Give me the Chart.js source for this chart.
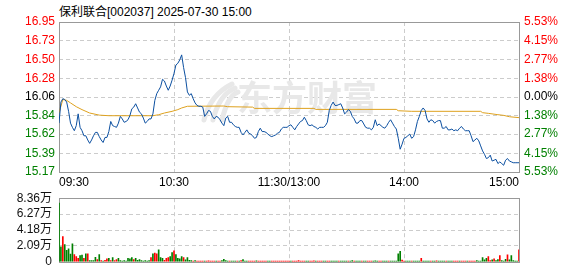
<!DOCTYPE html>
<html>
<head>
<meta charset="utf-8">
<script src="https://cdn.jsdelivr.net/npm/chart.js@4.4.1/dist/chart.umd.min.js"></script>
<style>
  body { margin: 0; background: #fff; width: 578px; height: 276px; position: relative; overflow: hidden; }
  #title { position: absolute; left: 59px; top: 2px; font: 12px 'Liberation Sans', 'Noto Sans CJK SC', sans-serif; color: #000; white-space: pre; }
  canvas { position: absolute; left: 0; }
  #priceCanvas { top: 0; }
  #volCanvas { top: 184px; }
</style>
</head>
<body>
<div id="title">保利联合[002037] 2025-07-30 15:00</div>
<canvas id="priceCanvas" width="578" height="190"></canvas>
<canvas id="volCanvas" width="578" height="92"></canvas>
<script>
// ---- data ----
var preClose = 16.06;
var timeTicks = [0, 60, 120, 180, 240];
var timeLabels = ['09:30', '10:30', '11:30/13:00', '14:00', '15:00'];
var priceTicks = [15.17, 15.39, 15.62, 15.84, 16.06, 16.28, 16.50, 16.73, 16.95];
var pctLabels = ['5.53%', '4.15%', '2.77%', '1.38%', '0.00%', '1.38%', '2.77%', '4.15%', '5.53%'];
var volTicks = [0, 2.09, 4.18, 6.27, 8.36];

// one price per minute, 09:30 .. 15:00
var prices = [
  15.75, 16.00, 16.04, 16.03, 16.00, 15.89, 15.75, 15.70, 15.66, 15.72,
  15.86, 15.70, 15.66, 15.60, 15.60, 15.55, 15.51, 15.55, 15.60, 15.64,
  15.64, 15.59, 15.55, 15.52, 15.58, 15.58, 15.65, 15.77, 15.72, 15.71,
  15.70, 15.75, 15.83, 15.80, 15.76, 15.77, 15.79, 15.84, 15.92, 15.94,
  15.98, 15.93, 15.88, 15.86, 15.81, 15.75, 15.77, 15.80, 15.80, 15.86,
  16.02, 16.10, 16.14, 16.18, 16.27, 16.25, 16.19, 16.14, 16.19, 16.26,
  16.34, 16.44, 16.46, 16.50, 16.56, 16.41, 16.29, 16.12, 16.08, 16.10,
  16.04, 15.99, 15.96, 15.95, 15.95, 15.94, 15.83, 15.86, 15.90, 15.89,
  15.83, 15.80, 15.83, 15.82, 15.79, 15.75, 15.72, 15.81, 15.83, 15.76,
  15.76, 15.73, 15.71, 15.70, 15.70, 15.64, 15.61, 15.64, 15.67, 15.63,
  15.62, 15.60, 15.57, 15.58, 15.65, 15.69, 15.65, 15.65, 15.64, 15.62,
  15.60, 15.59, 15.60, 15.61, 15.63, 15.64, 15.68, 15.70, 15.70, 15.70,
  15.72, 15.73, 15.70, 15.67, 15.71, 15.74, 15.77, 15.78, 15.82, 15.78,
  15.73, 15.72, 15.73, 15.71, 15.70, 15.68, 15.70, 15.70, 15.70, 15.72,
  15.76, 15.90, 15.96, 16.00, 15.96, 15.96, 15.97, 15.98, 15.93, 15.86,
  15.88, 15.91, 15.89, 15.83, 15.80, 15.75, 15.75, 15.78, 15.78, 15.74,
  15.70, 15.69, 15.69, 15.67, 15.70, 15.79, 15.72, 15.74, 15.72, 15.70,
  15.69, 15.72, 15.76, 15.79, 15.75, 15.71, 15.68, 15.57, 15.44, 15.50,
  15.57, 15.58, 15.60, 15.62, 15.57, 15.59, 15.67, 15.77, 15.83, 15.90,
  15.93, 15.90, 15.80, 15.76, 15.79, 15.78, 15.75, 15.77, 15.78, 15.78,
  15.69, 15.69, 15.71, 15.67, 15.67, 15.68, 15.66, 15.67, 15.66, 15.69,
  15.71, 15.68, 15.66, 15.66, 15.66, 15.60, 15.53, 15.55, 15.57, 15.54,
  15.48, 15.42, 15.38, 15.33, 15.34, 15.37, 15.30, 15.31, 15.32, 15.27,
  15.29, 15.27, 15.25, 15.31, 15.33, 15.30, 15.29, 15.28, 15.28, 15.28, 15.28
];

// average price line, read at the minutes where it bends
var avgMinutes = [0, 2, 4, 6, 9, 12, 16, 21, 26, 49, 52, 55, 59, 62, 64, 67, 86, 88, 101, 102, 133, 134, 176, 177, 184, 220, 221, 224, 229, 232, 235, 240];
var avgPrices = [15.87, 16.03, 16.02, 15.99, 15.945, 15.91, 15.87, 15.845, 15.838, 15.838, 15.85, 15.87, 15.89, 15.91, 15.93, 15.95, 15.953, 15.945, 15.94, 15.925, 15.925, 15.913, 15.913, 15.897, 15.89, 15.89, 15.874, 15.866, 15.85, 15.842, 15.826, 15.815];

// volume per minute, in 万 shares
var volumes = [
  7.72, 1.96, 3.31, 2.26, 1.51, 1.69, 1.02, 2.37, 0.94, 0.68,
  0.45, 0.83, 0.87, 0.45, 1.05, 1.05, 0.15, 0.15, 0.15, 0.60,
  0.30, 0.94, 0.15, 0.11, 0.19, 0.38, 0.45, 0.15, 0.56, 0.15,
  0.30, 0.45, 0.15, 0.11, 0.15, 0.11, 0.45, 0.38, 0.56, 0.30,
  0.45, 0.19, 0.30, 0.15, 0.11, 0.15, 0.11, 0.15, 0.56, 1.05,
  1.13, 1.05, 1.58, 0.56, 0.45, 0.19, 0.45, 0.56, 0.68, 1.20,
  1.43, 0.94, 0.45, 0.38, 0.68, 0.56, 0.26, 0.56, 0.19, 0.15,
  0.11, 0.15, 0.11, 0.08, 0.11, 0.08, 0.11, 0.08, 0.12, 0.08,
  0.11, 0.08, 0.11, 0.08, 0.11, 0.15, 0.34, 0.15, 0.11, 0.08,
  0.11, 0.08, 0.11, 0.08, 0.11, 0.15, 0.30, 0.11, 0.08, 0.11,
  0.08, 0.11, 0.08, 0.12, 0.08, 0.11, 0.08, 0.11, 0.09, 0.11,
  0.08, 0.11, 0.08, 0.11, 0.08, 0.11, 0.09, 0.11, 0.08, 0.11,
  0.08, 0.11, 0.08, 0.11, 0.08, 0.15, 0.08, 0.11, 0.08, 0.11,
  0.08, 0.11, 0.08, 0.12, 0.08, 0.11, 0.08, 0.11, 0.08, 0.11,
  0.08, 0.11, 0.09, 0.11, 0.08, 0.11, 0.08, 0.11, 0.08, 0.11,
  0.08, 0.11, 0.08, 0.15, 0.08, 0.11, 0.08, 0.11, 0.08, 0.11,
  0.08, 0.11, 0.08, 0.11, 0.08, 0.12, 0.08, 0.11, 0.08, 0.11,
  0.08, 0.11, 0.08, 0.11, 0.08, 0.11, 0.11, 1.05, 1.39, 0.23,
  0.11, 0.08, 0.11, 0.08, 0.11, 0.08, 0.11, 0.08, 0.11, 0.45,
  0.08, 0.11, 0.08, 0.11, 0.08, 0.11, 0.08, 0.12, 0.08, 0.11,
  0.08, 0.11, 0.08, 0.11, 0.08, 0.11, 0.08, 0.11, 0.08, 0.11,
  0.08, 0.11, 0.08, 0.11, 0.08, 0.11, 0.08, 0.11, 0.15, 0.11,
  0.08, 0.56, 0.26, 0.45, 0.68, 0.15, 0.26, 0.38, 0.15, 0.30,
  0.83, 0.15, 0.08, 0.34, 0.90, 0.26, 0.83, 0.15, 0.08, 0.11, 1.58
];
// 1 = up minute (red bar), 0 = down minute (green bar)
var volUp = [
  0, 0, 1, 0, 0, 0, 0, 0, 1, 1,
  1, 0, 0, 1, 0, 1, 0, 0, 0, 0,
  1, 0, 1, 0, 1, 1, 0, 1, 0, 1,
  1, 0, 0, 0, 0, 0, 0, 0, 0, 1,
  0, 0, 0, 0, 0, 0, 0, 0, 1, 0,
  1, 1, 0, 0, 0, 1, 1, 1, 0, 0,
  1, 0, 0, 0, 0, 1, 0, 0, 0, 0,
  1, 0, 1, 1, 1, 1, 0, 1, 1, 1,
  1, 1, 0, 1, 1, 0, 0, 0, 0, 1,
  0, 0, 0, 1, 0, 1, 0, 0, 0, 1,
  1, 1, 1, 0, 1, 1, 1, 1, 1, 0,
  0, 1, 1, 1, 1, 1, 1, 1, 1, 1,
  1, 0, 1, 1, 1, 1, 1, 1, 1, 0,
  0, 1, 1, 1, 0, 1, 1, 1, 0, 0,
  1, 1, 0, 0, 0, 0, 1, 0, 0, 0,
  0, 1, 0, 0, 1, 0, 0, 0, 1, 0,
  0, 1, 1, 1, 0, 0, 0, 1, 1, 0,
  0, 0, 1, 0, 0, 0, 0, 0, 0, 1,
  1, 0, 0, 0, 1, 0, 0, 0, 0, 1,
  0, 0, 0, 0, 1, 0, 0, 1, 0, 0,
  0, 0, 1, 0, 0, 0, 1, 1, 1, 0,
  1, 1, 1, 0, 1, 1, 1, 1, 0, 0,
  0, 0, 0, 0, 1, 1, 0, 1, 0, 0,
  1, 0, 0, 0, 1, 0, 0, 0, 0, 0, 1
];

// ---- styling ----
var upColor = '#FF0000';
var downColor = '#008000';
var gridColor = '#cccccc';
var frameColor = '#999999';

Chart.defaults.font.family = "'Liberation Sans', 'Noto Sans CJK SC', sans-serif";
Chart.defaults.font.size = 12;
Chart.defaults.color = '#000';

function edgeHidden(list) {
  return function(c) {
    if (c.tick && (c.tick.value === list[0] || c.tick.value === list[list.length - 1])) return 'rgba(0,0,0,0)';
    return gridColor;
  };
}
function priceColor(c) {
  var v = c.tick.value;
  if (v > preClose + 0.001) return upColor;
  if (v < preClose - 0.001) return downColor;
  return '#000';
}

var framePlugin = {
  id: 'frame',
  beforeDatasetsDraw: function(chart) {
    var a = chart.chartArea, ctx = chart.ctx;
    ctx.save();
    ctx.strokeStyle = frameColor;
    ctx.lineWidth = 1;
    ctx.strokeRect(Math.round(a.left) + 0.5, Math.round(a.top) + 0.5, Math.round(a.right - a.left), Math.round(a.bottom - a.top));
    ctx.restore();
  }
};

var watermarkPlugin = {
  id: 'watermark',
  beforeDatasetsDraw: function(chart) {
    var ctx = chart.ctx;
    ctx.save();
    ctx.fillStyle = '#e8e8e8';
    ctx.strokeStyle = '#e8e8e8';
    ctx.font = "bold 35px 'Noto Sans CJK SC'";
    ctx.textBaseline = 'middle';
    ctx.fillText('东方财富', 237, 98);
    ctx.lineWidth = 5;
    ctx.lineCap = 'round';
    for (var k = 0; k < 3; k++) {
      ctx.beginPath();
      ctx.moveTo(204 + k * 9, 120);
      ctx.quadraticCurveTo(210 + k * 9, 95, 232 + k * 3, 84 + k * 4);
      ctx.stroke();
    }
    ctx.restore();
  }
};

var priceChart = new Chart(document.getElementById('priceCanvas'), {
  type: 'line',
  data: {
    datasets: [{
      label: '价格',
      data: prices.map(function(p, i) { return { x: i, y: p }; }),
      borderColor: '#0B4FA0',
      borderWidth: 1,
      pointRadius: 0,
      tension: 0,
      yAxisID: 'y'
    }, {
      label: '均价',
      data: avgMinutes.map(function(m, i) { return { x: m, y: avgPrices[i] }; }),
      borderColor: '#DEA11E',
      borderWidth: 1,
      pointRadius: 0,
      tension: 0,
      yAxisID: 'y'
    }]
  },
  options: {
    responsive: false,
    animation: false,
    layout: { padding: { top: 22, left: 0, right: 0, bottom: 0 } },
    plugins: { legend: { display: false }, tooltip: { enabled: false } },
    scales: {
      x: {
        type: 'linear', min: 0, max: 240,
        afterBuildTicks: function(s) { s.ticks = timeTicks.map(function(v) { return { value: v }; }); },
        afterFit: function(s) { s.height = 18; },
        grid: { color: edgeHidden(timeTicks), drawTicks: false },
        border: { display: false, dash: [4, 3] },
        ticks: { align: 'inner', padding: 3, maxRotation: 0, autoSkip: false,
          callback: function(v, i) { return timeLabels[i]; } }
      },
      y: {
        position: 'left', min: 15.17, max: 16.95,
        afterBuildTicks: function(s) { s.ticks = priceTicks.map(function(v) { return { value: v }; }); },
        afterFit: function(s) { s.width = 59; },
        grid: { color: edgeHidden(priceTicks), drawTicks: false },
        border: { display: false, dash: [4, 3] },
        ticks: { padding: 4, color: priceColor, callback: function(v) { return v.toFixed(2); } }
      },
      yR: {
        position: 'right', min: 15.17, max: 16.95,
        afterBuildTicks: function(s) { s.ticks = priceTicks.map(function(v) { return { value: v }; }); },
        afterFit: function(s) { s.width = 59; },
        grid: { drawOnChartArea: false, drawTicks: false },
        border: { display: false },
        ticks: { padding: 5, color: priceColor, callback: function(v, i) { return pctLabels[i]; } }
      }
    }
  },
  plugins: [watermarkPlugin, framePlugin]
});

var volChart = new Chart(document.getElementById('volCanvas'), {
  type: 'bar',
  data: {
    datasets: [{
      label: '成交量',
      data: volumes.map(function(v, i) { return { x: i, y: v }; }),
      backgroundColor: volUp.map(function(u) { return u ? upColor : downColor; }),
      borderWidth: 0,
      barThickness: 1
    }]
  },
  options: {
    responsive: false,
    animation: false,
    layout: { padding: { top: 12, left: 0, right: 59, bottom: 6 } },
    plugins: { legend: { display: false }, tooltip: { enabled: false } },
    scales: {
      x: {
        type: 'linear', min: 0, max: 240, offset: false,
        afterBuildTicks: function(s) { s.ticks = timeTicks.map(function(v) { return { value: v }; }); },
        afterFit: function(s) { s.height = 0; },
        grid: { offset: false, color: edgeHidden(timeTicks), drawTicks: false },
        border: { display: false, dash: [4, 3] },
        ticks: { display: false }
      },
      y: {
        min: 0, max: 8.36,
        afterBuildTicks: function(s) { s.ticks = volTicks.map(function(v) { return { value: v }; }); },
        afterFit: function(s) { s.width = 59; },
        grid: { color: edgeHidden(volTicks), drawTicks: false },
        border: { display: false, dash: [4, 3] },
        ticks: { padding: 7, color: '#111',
          callback: function(v) { return v === 0 ? '0' : v.toFixed(2) + '万'; } }
      }
    }
  },
  plugins: [framePlugin]
});
</script>
</body>
</html>
